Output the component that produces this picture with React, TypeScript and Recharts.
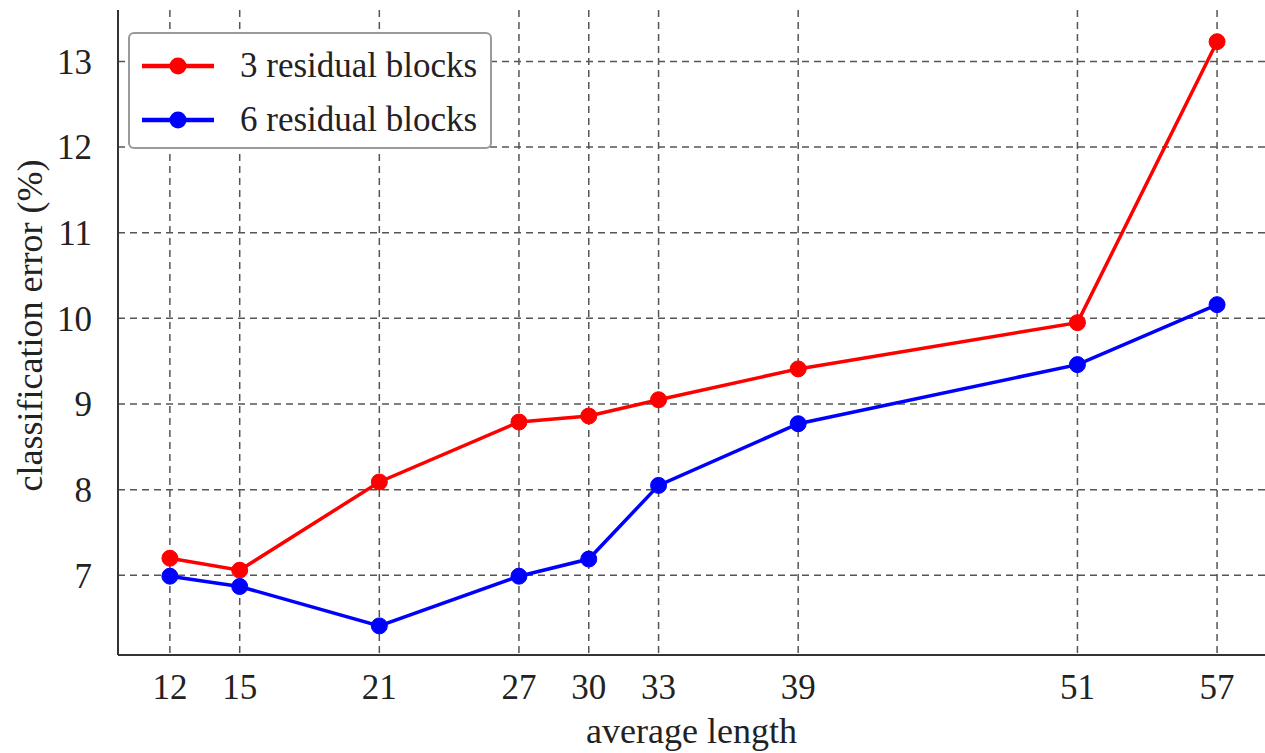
import {
    LineChart,
    Line,
    XAxis,
    YAxis,
    CartesianGrid,
    Legend,
    Label,
} from 'recharts';

const lengths = [12, 15, 21, 27, 30, 33, 39, 51, 57];
const threeBlocks = [7.2, 7.06, 8.09, 8.79, 8.86, 9.05, 9.41, 9.95, 13.23];
const sixBlocks = [6.99, 6.87, 6.41, 6.99, 7.19, 8.05, 8.77, 9.46, 10.16];
const yTicks = [7, 8, 9, 10, 11, 12, 13];

const series = [
    { key: 'three', name: '3 residual blocks', color: '#ff0000' },
    { key: 'six', name: '6 residual blocks', color: '#0000ff' },
];

const data = lengths.map((len, i) => ({
    len,
    three: threeBlocks[i],
    six: sixBlocks[i],
}));

const font = '"Liberation Serif", "Times New Roman", serif';
const textColor = '#222';

const renderLegend = () => (
    <div
        style={{
            border: '2px solid #9a9a9a',
            borderRadius: 6,
            background: '#fff',
            width: 364,
            height: 117,
            boxSizing: 'border-box',
            padding: '5px 0 0 10px',
            fontFamily: font,
            fontSize: 35,
            color: textColor,
        }}
    >
        {series.map((s) => (
            <div key={s.key} style={{ display: 'flex', alignItems: 'center', height: 54 }}>
                <svg width={76} height={20} style={{ marginRight: 24 }}>
                    <line x1={2} y1={10} x2={74} y2={10} stroke={s.color} strokeWidth={4.5} />
                    <circle cx={38} cy={10} r={8.5} fill={s.color} />
                </svg>
                <span>{s.name}</span>
            </div>
        ))}
    </div>
);

const YLabel = (props: any) => {
    const { viewBox } = props;
    const x = 30;
    const y = viewBox.y + viewBox.height / 2 - 7;
    return (
        <text
            x={x}
            y={y}
            transform={`rotate(-90, ${x}, ${y})`}
            textAnchor="middle"
            dominantBaseline="central"
            fontFamily={font}
            fontSize={36}
            fill={textColor}
        >
            classification error (%)
        </text>
    );
};

export default function App() {
    return (
        <div style={{ position: 'absolute', left: 0, top: 0, background: '#fff' }}>
            <LineChart
                width={1265}
                height={753}
                data={data}
                margin={{ top: 10, right: 0, left: 0, bottom: 0 }}
            >
                <CartesianGrid
                    stroke="#555"
                    strokeDasharray="7 5"
                    strokeWidth={1.5}
                    horizontalValues={yTicks}
                    verticalValues={lengths}
                />
                <XAxis
                    dataKey="len"
                    type="number"
                    domain={[9.77, 59.06]}
                    ticks={lengths}
                    allowDataOverflow
                    height={98}
                    tickLine={false}
                    tickSize={6}
                    tickMargin={13}
                    axisLine={{ stroke: '#333', strokeWidth: 2 }}
                    tick={{ fill: textColor, fontSize: 35, fontFamily: font }}
                    interval={0}
                >
                    <Label
                        value="average length"
                        position="insideBottom"
                        offset={10}
                        style={{ fill: textColor, fontSize: 36, fontFamily: font }}
                    />
                </XAxis>
                <YAxis
                    type="number"
                    domain={[6.07, 13.6]}
                    ticks={yTicks}
                    allowDataOverflow
                    width={118}
                    tickLine={false}
                    tickSize={6}
                    tickMargin={20}
                    axisLine={{ stroke: '#333', strokeWidth: 2 }}
                    tick={{ fill: textColor, fontSize: 35, fontFamily: font }}
                    interval={0}
                >
                    <Label content={YLabel} />
                </YAxis>
                <Legend
                    layout="horizontal"
                    verticalAlign="middle"
                    align="center"
                    wrapperStyle={{ left: 128, top: 32, width: 364, height: 117 }}
                    content={renderLegend}
                />
                {series.map((s) => (
                    <Line
                        key={s.key}
                        dataKey={s.key}
                        name={s.name}
                        type="linear"
                        stroke={s.color}
                        strokeWidth={3.5}
                        dot={{ r: 8, fill: s.color, stroke: s.color, strokeWidth: 1 }}
                        activeDot={false}
                        isAnimationActive={false}
                    />
                ))}
            </LineChart>
        </div>
    );
}
